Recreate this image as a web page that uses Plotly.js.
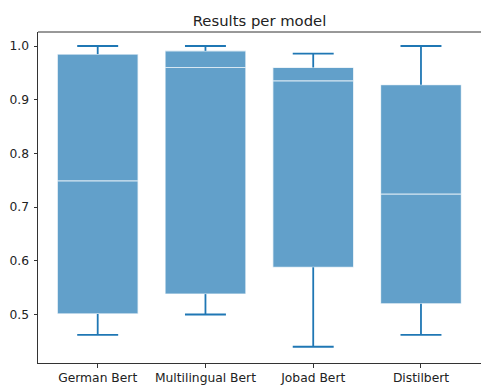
<!DOCTYPE html>
<html>
<head>
<meta charset="utf-8">
<script src="https://cdn.plot.ly/plotly-3.0.1.min.js"></script>
<style>
  html, body { margin: 0; padding: 0; background: #fff; }
  #chart { width: 481px; height: 385px; }
</style>
</head>
<body>
<div id="chart"></div>
<script>
// Score distribution per model
const models = ['German Bert', 'Multilingual Bert', 'Jobad Bert', 'Distilbert'];
const q1Vals = [0.501, 0.538, 0.588, 0.520];
const medianVals = [0.749, 0.960, 0.935, 0.724];
const q3Vals = [0.985, 0.991, 0.960, 0.928];
const lowVals = [0.462, 0.500, 0.440, 0.462];
const highVals = [1.000, 1.000, 0.986, 1.000];

const positions = models.map((_, i) => i + 1);
const boxWidth = 0.75;
const capHalf = 0.19;

// Whiskers with caps, built from the fence and quartile arrays
const wx = [], wy = [];
positions.forEach((p, i) => {
  wx.push(p, p, null, p - capHalf, p + capHalf, null);
  wy.push(lowVals[i], q1Vals[i], null, lowVals[i], lowVals[i], null);
  wx.push(p, p, null, p - capHalf, p + capHalf, null);
  wy.push(q3Vals[i], highVals[i], null, highVals[i], highVals[i], null);
});

const whiskers = {
  type: 'scatter',
  mode: 'lines',
  x: wx,
  y: wy,
  line: { color: '#1f77b4', width: 1.8 },
  hoverinfo: 'skip',
  showlegend: false
};

const boxes = {
  type: 'box',
  x: positions,
  q1: q1Vals,
  median: medianVals,
  q3: q3Vals,
  lowerfence: q1Vals,
  upperfence: q3Vals,
  width: boxWidth,
  boxpoints: false,
  fillcolor: '#62a0ca',
  line: { color: 'rgba(255,255,255,0.75)', width: 1.2 },
  hoverinfo: 'skip',
  showlegend: false
};

const font = { family: 'DejaVu Sans, sans-serif', color: '#222' };

const layout = {
  width: 481,
  height: 385,
  margin: { l: 38, r: 0, t: 32, b: 22 },
  paper_bgcolor: '#fff',
  plot_bgcolor: '#fff',
  showlegend: false,
  title: {
    text: 'Results per model',
    font: Object.assign({ size: 14.8 }, font),
    x: 0.5, xref: 'paper',
    y: 1 - 20.5 / 385, yref: 'container', yanchor: 'middle'
  },
  xaxis: {
    range: [0.446, 4.557],
    tickvals: positions,
    ticktext: models,
    ticks: 'outside', ticklen: 3.5, tickwidth: 1, tickcolor: '#333',
    showline: true, linecolor: '#333', linewidth: 1, mirror: false,
    showgrid: false, zeroline: false,
    tickfont: Object.assign({ size: 12.3 }, font)
  },
  yaxis: {
    range: [0.4097, 1.0261],
    tickvals: [0.5, 0.6, 0.7, 0.8, 0.9, 1.0],
    ticktext: ['0.5', '0.6', '0.7', '0.8', '0.9', '1.0'],
    ticks: 'outside', ticklen: 3.5, tickwidth: 1, tickcolor: '#333',
    ticklabelstandoff: 2,
    showline: true, linecolor: '#333', linewidth: 1, mirror: false,
    showgrid: false, zeroline: false,
    tickfont: Object.assign({ size: 12.3 }, font)
  },
  shapes: [{
    type: 'line', xref: 'paper', yref: 'paper',
    x0: 0, x1: 1, y0: 1, y1: 1,
    line: { color: '#333', width: 1 }
  }]
};

Plotly.newPlot('chart', [whiskers, boxes], layout, { staticPlot: true, displayModeBar: false });
</script>
</body>
</html>
